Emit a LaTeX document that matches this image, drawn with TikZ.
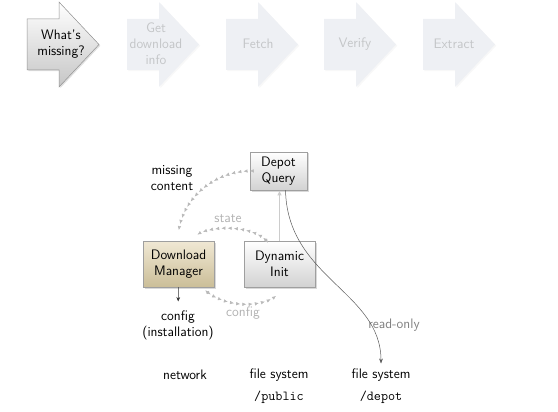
\documentclass[tikz,border=0pt]{standalone}
\usetikzlibrary{arrows.meta,decorations.markings,shadows,calc}
\definecolor{fadefill}{HTML}{EEF0F4}
\definecolor{fadetext}{HTML}{C4C6C8}
\definecolor{tantop}{HTML}{F0E8D4}
\definecolor{tanbot}{HTML}{CBBE98}
\newcommand\stagearrowpath[1]{%
  (#1,19) -- ++(32,0) -- ++(0,-17) -- ++(40,42.5) -- ++(-40,42.5) -- ++(0,-17) -- ++(-32,0) -- cycle}
\begin{document}
\begin{tikzpicture}[x=0.8pt,y=-0.8pt,font=\sffamily\fontsize{11}{12.8}\selectfont,
  curstage/.style={draw=gray!85,top color=white,bottom color=gray!45,
    drop shadow={opacity=0.25,shadow xshift=1pt,shadow yshift=-1pt}},
  fadestage/.style={fill=fadefill,draw=none,
    drop shadow={opacity=0.06,shadow xshift=1pt,shadow yshift=-1pt}},
  stagetext/.style={align=center,inner sep=0pt},
  box/.style={draw=gray!75,top color=white,bottom color=gray!35,align=center,
    minimum width=45.6pt,minimum height=30.4pt,inner sep=2pt,
    drop shadow={opacity=0.3,shadow xshift=1.2pt,shadow yshift=-1.2pt}},
  bigbox/.style={box,minimum width=56.8pt,minimum height=36.8pt},
  tanbox/.style={bigbox,top color=tantop,bottom color=tanbot},
  lbl/.style={align=center,inner sep=1pt},
  dotchain/.style={color=gray!55,decoration={markings,
    mark=between positions 0 and 1 step 5pt with {\arrow{Latex[length=3.2pt,width=2.8pt]}}},
    postaction={decorate}},
  bichain/.style={color=gray!55,decoration={markings,
    mark=at position 0 with {\arrowreversed{Latex[length=3.2pt,width=2.8pt]}},
    mark=between positions 0.09 and 1 step 5pt with {\arrow{Latex[length=3.2pt,width=2.8pt]}}},
    postaction={decorate}}
]
\useasboundingbox (0,0) rectangle (558,411);

% pipeline stages
\path[curstage] \stagearrowpath{27};
\path[fadestage] \stagearrowpath{127};
\path[fadestage] \stagearrowpath{226};
\path[fadestage] \stagearrowpath{324};
\path[fadestage] \stagearrowpath{423};
\node[stagetext] (s1) at (61,44) {What's\\missing?};
\node[stagetext,text=fadetext] (s2) at (156,44) {Get\\download\\info};
\node[stagetext,text=fadetext] (s3) at (258,44) {Fetch};
\node[stagetext,text=fadetext] (s4) at (355,44) {Verify};
\node[stagetext,text=fadetext] (s5) at (454,44) {Extract};

% boxes
\node[box] (dq) at (278.5,171) {Depot\\Query};
\node[tanbox] (dm) at (178.5,264) {Download\\Manager};
\node[bigbox] (di) at (279.5,264) {Dynamic\\Init};

% labels
\node[lbl] (mc) at (172,178) {missing\\content};
\node[lbl,text=gray!60] (st) at (228,219) {state};
\node[lbl,text=gray!60] (cf) at (243,313) {config};
\node[lbl] (cfi) at (178,325) {config\\(installation)};
\node[lbl,text=gray] (ro) at (394,325) {read-only};
\node[lbl] (net) at (185,375) {network};
\node[lbl] (fsp) at (279,375) {file system};
\node[lbl] (pub) at (279,397) {\ttfamily /public};
\node[lbl] (fsd) at (381,375) {file system};
\node[lbl] (dep) at (381,397) {\ttfamily /depot};

% connectors
\draw[gray!40,line width=1.1pt,-{Latex[length=4pt,width=3.5pt]}] (di.north) -- (di.north |- dq.south);
\draw[black!65,-{Stealth[length=4pt,width=3pt]}] ([xshift=5.6pt]dq.south)
  .. controls +(2,88) and +(0,-72) .. ([yshift=3pt]fsd.north);
\draw[black!80,-{Stealth[length=3.5pt,width=3pt]},shorten >=6pt] (dm.south) -- (cfi.north);

\path[dotchain] (dq.west) .. controls (212,172) and (182,200) .. ($(dm.north)+(0,-8)$);
\path[bichain] ([xshift=-9.2pt,yshift=-1.6pt]di.north)
  .. controls (255,225) and (212,225) .. ($(dm.north east)+(-17,-6)$);
\path[bichain] ($(dm.south east)+(-9,3)$)
  .. controls (225,308) and (262,308) .. ($(di.south west)+(33,8)$);
\end{tikzpicture}
\end{document}
